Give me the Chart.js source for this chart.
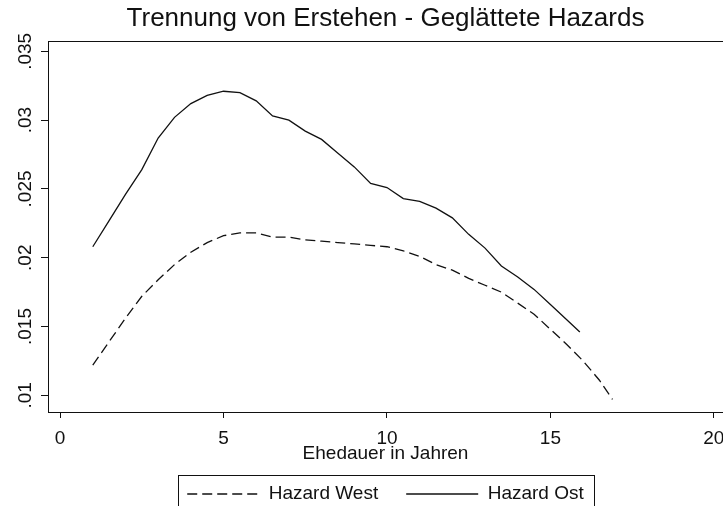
<!DOCTYPE html>
<html lang="de">
<head>
<meta charset="UTF-8">
<title>Trennung von Erstehen - Geglättete Hazards</title>
<script src="https://cdn.jsdelivr.net/npm/chart.js"></script>
<style>
    html, body { margin: 0; padding: 0; background: #fff; }
    #chart { display: block; }
</style>
</head>
<body>
<canvas id="chart" width="723" height="506"></canvas>
<script>
    // Geglättete Hazardraten
    const yearsWest = [1, 1.5, 2, 2.5, 3, 3.5, 4, 4.5, 5, 5.5, 6, 6.5, 7, 7.5, 8, 8.5, 9, 9.5, 10,
        10.5, 11, 11.5, 12, 12.5, 13, 13.5, 14, 14.5, 15, 15.5, 16, 16.5, 16.9];
    const hazardWest = [0.0122, 0.0139, 0.0156, 0.0172, 0.0184, 0.0195, 0.0204, 0.0211, 0.0216, 0.0218,
        0.0218, 0.0215, 0.0215, 0.0213, 0.0212, 0.0211, 0.0210, 0.0209, 0.0208, 0.0205, 0.0201, 0.0195,
        0.0191, 0.0185, 0.0180, 0.0175, 0.0167, 0.0159, 0.0148, 0.0137, 0.0125, 0.0111, 0.0097];

    const yearsOst = [1, 1.5, 2, 2.5, 3, 3.5, 4, 4.5, 5, 5.5, 6, 6.5, 7, 7.5, 8, 8.5, 9, 9.5, 10,
        10.5, 11, 11.5, 12, 12.5, 13, 13.5, 14, 14.5, 15, 15.5, 15.9];
    const hazardOst = [0.0208, 0.0227, 0.0246, 0.0264, 0.0287, 0.0302, 0.0312, 0.0318, 0.0321, 0.0320,
        0.0314, 0.0303, 0.0300, 0.0292, 0.0286, 0.0276, 0.0266, 0.0254, 0.0251, 0.0243, 0.0241, 0.0236,
        0.0229, 0.0217, 0.0207, 0.0194, 0.0186, 0.0177, 0.0166, 0.0155, 0.0146];

    const xTicks = [0, 5, 10, 15, 20];
    const xTickLabels = ['0', '5', '10', '15', '20'];
    const yTicks = [0.01, 0.015, 0.02, 0.025, 0.03, 0.035];
    const yTickLabels = ['.01', '.015', '.02', '.025', '.03', '.035'];

    const FONT = "'Liberation Sans', Arial, sans-serif";
    const INK = '#111';

    function points(xs, ys) {
        return xs.map((x, i) => ({ x: x, y: ys[i] }));
    }

    // y tick labels are rotated like in Stata (reading bottom to top)
    const rotatedYLabels = {
        id: 'rotatedYLabels',
        afterDraw(chart) {
            const scale = chart.scales.y;
            const ctx = chart.ctx;
            ctx.save();
            ctx.fillStyle = INK;
            ctx.font = '19px ' + FONT;
            ctx.textAlign = 'center';
            ctx.textBaseline = 'alphabetic';
            scale.ticks.forEach((t) => {
                const y = scale.getPixelForValue(t.value);
                ctx.save();
                ctx.translate(31, y);
                ctx.rotate(-Math.PI / 2);
                ctx.fillText(t.label, 0, 0);
                ctx.restore();
            });
            ctx.restore();
        }
    };

    // frame around the legend, bottom edge runs off the picture
    const legendFrame = {
        id: 'legendFrame',
        afterDraw(chart) {
            const boxes = chart.legend.legendHitBoxes;
            if (!boxes || !boxes.length) return;
            const first = boxes[0];
            const last = boxes[boxes.length - 1];
            const left = Math.round(first.left - 9) + 0.5;
            const right = Math.round(last.left + last.width + 10) + 0.5;
            const top = Math.round(first.top - 10) + 0.5;
            const ctx = chart.ctx;
            ctx.save();
            ctx.strokeStyle = INK;
            ctx.lineWidth = 1;
            ctx.strokeRect(left, top, right - left, chart.height + 20 - top);
            ctx.restore();
        }
    };

    const ctx = document.getElementById('chart').getContext('2d');

    new Chart(ctx, {
        type: 'line',
        data: {
            datasets: [{
                label: 'Hazard West',
                data: points(yearsWest, hazardWest),
                borderColor: INK,
                borderWidth: 1.3,
                borderDash: [10, 5],
                pointRadius: 0,
                fill: false,
                tension: 0
            }, {
                label: 'Hazard Ost',
                data: points(yearsOst, hazardOst),
                borderColor: INK,
                borderWidth: 1.3,
                pointRadius: 0,
                fill: false,
                tension: 0
            }]
        },
        options: {
            responsive: false,
            devicePixelRatio: 1,
            animation: false,
            layout: { padding: 0 },
            scales: {
                x: {
                    type: 'linear',
                    position: 'bottom',
                    min: -0.37,
                    max: 20.28,
                    afterBuildTicks: (s) => { s.ticks = xTicks.map(v => ({ value: v })); },
                    afterFit: (s) => { s.height = 44.5; s.paddingLeft = 0; s.paddingRight = 0; },
                    ticks: {
                        callback: (v, i) => xTickLabels[i],
                        color: INK,
                        font: { family: FONT, size: 19 },
                        padding: 9,
                        maxRotation: 0,
                        autoSkip: false
                    },
                    grid: { drawOnChartArea: false, drawTicks: true, tickLength: 6, color: INK },
                    border: { display: true, color: INK, width: 1 },
                    title: {
                        display: true,
                        text: 'Ehedauer in Jahren',
                        color: INK,
                        font: { family: FONT, size: 19 },
                        padding: { top: 0, bottom: -9 }
                    }
                },
                xTop: {
                    type: 'linear',
                    position: 'top',
                    min: -0.37,
                    max: 20.28,
                    afterFit: (s) => { s.height = 0; s.paddingLeft = 0; s.paddingRight = 0; },
                    ticks: { display: false },
                    grid: { drawOnChartArea: false, drawTicks: false },
                    border: { display: true, color: INK, width: 1 }
                },
                y: {
                    type: 'linear',
                    position: 'left',
                    min: 0.00879,
                    max: 0.03575,
                    afterBuildTicks: (s) => { s.ticks = yTicks.map(v => ({ value: v })); },
                    afterFit: (s) => { s.width = 48; s.paddingTop = 0; s.paddingBottom = 0; },
                    ticks: {
                        display: false,
                        callback: (v, i) => yTickLabels[i]
                    },
                    grid: { drawOnChartArea: false, drawTicks: true, tickLength: 7, color: INK },
                    border: { display: true, color: INK, width: 1 }
                }
            },
            plugins: {
                title: {
                    display: true,
                    fullSize: false,
                    text: 'Trennung von Erstehen - Geglättete Hazards',
                    color: INK,
                    font: { family: FONT, size: 26, weight: 'normal' },
                    padding: { top: 2.9, bottom: 6.9 }
                },
                legend: {
                    display: true,
                    position: 'bottom',
                    fullSize: false,
                    maxHeight: 49.5,
                    labels: {
                        usePointStyle: true,
                        pointStyle: 'line',
                        pointStyleWidth: 72,
                        color: INK,
                        font: { family: FONT, size: 19 },
                        padding: 28,
                        generateLabels: (chart) => {
                            const items = Chart.defaults.plugins.legend.labels.generateLabels(chart);
                            items.forEach((it) => {
                                const ds = chart.data.datasets[it.datasetIndex];
                                it.lineDash = ds.borderDash || [];
                                it.lineWidth = ds.borderWidth;
                                it.strokeStyle = ds.borderColor;
                            });
                            return items;
                        }
                    }
                },
                tooltip: { enabled: false }
            }
        },
        plugins: [rotatedYLabels, legendFrame]
    });
</script>
</body>
</html>
